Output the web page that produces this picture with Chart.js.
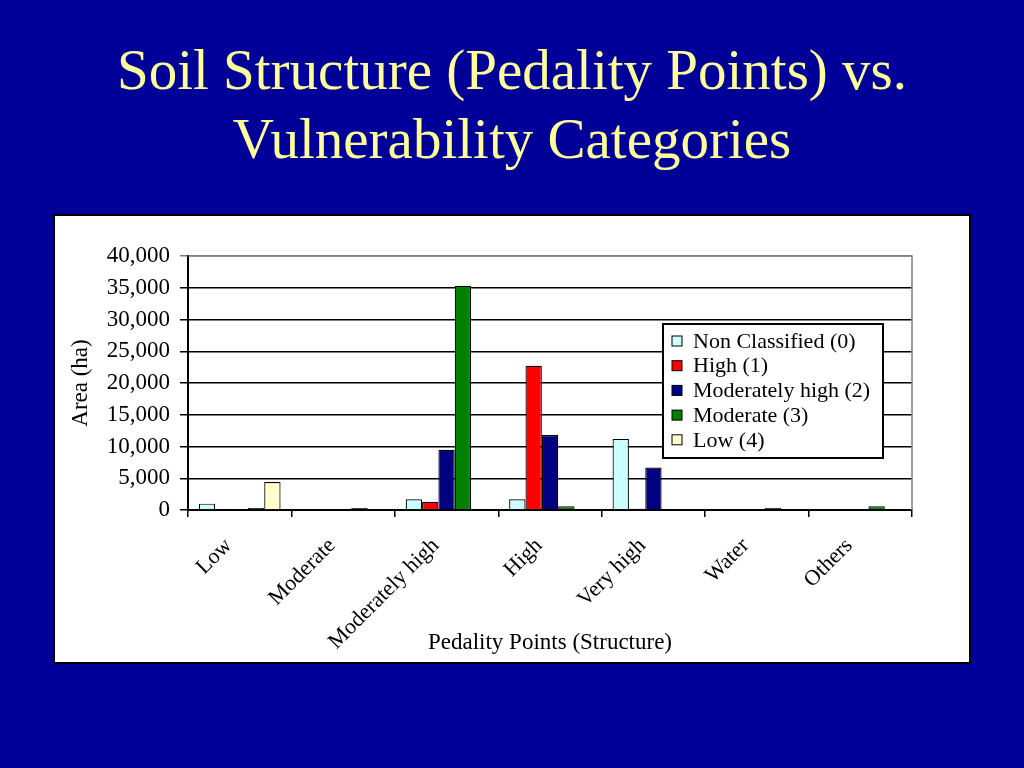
<!DOCTYPE html>
<html>
<head>
<meta charset="utf-8">
<script src="https://cdn.jsdelivr.net/npm/chart.js@4.4.1/dist/chart.umd.min.js"></script>
<style>
    html, body {
        margin: 0;
        padding: 0;
        width: 1024px;
        height: 768px;
        background: #000099;
        overflow: hidden;
    }
    .title {
        position: absolute;
        left: 0;
        top: 35px;
        width: 1024px;
        text-align: center;
        color: #FFFF99;
        font-family: "Liberation Serif", "Times New Roman", serif;
        font-size: 57px;
        line-height: 69px;
    }
    .chart-box {
        position: absolute;
        left: 53px;
        top: 214px;
        width: 914px;
        height: 446px;
        background: #ffffff;
        border: 2px solid #000000;
    }
</style>
</head>
<body>
<div class="title">Soil Structure (Pedality Points) vs.<br>Vulnerability Categories</div>
<div class="chart-box"><canvas id="chart" width="914" height="446"></canvas></div>
<script>
    let categories = ["Low", "Moderate", "Moderately high", "High", "Very high", "Water", "Others"];
    let nonClassified = [1000, 0, 1700, 1700, 11200, 0, 0];
    let highVuln = [0, 0, 1300, 22700, 200, 0, 0];
    let modHighVuln = [0, 0, 9500, 11800, 6700, 0, 0];
    let moderateVuln = [300, 300, 35300, 600, 0, 300, 600];
    let lowVuln = [4400, 0, 0, 0, 0, 0, 0];
    let yTicks = [0, 5000, 10000, 15000, 20000, 25000, 30000, 35000, 40000];

    let serif = "'Liberation Serif', 'Times New Roman', serif";

    function makeSet(label, data, color) {
        return {
            label: label,
            data: data,
            backgroundColor: color,
            borderColor: "#000000",
            borderWidth: 1.2,
            borderSkipped: "bottom",
            barPercentage: 1.0,
            categoryPercentage: 0.79
        };
    }

    // legend box drawn inside the plot, plus the grey plot frame
    let boxLegend = {
        id: "boxLegend",
        afterDraw: function(chart) {
            let ctx = chart.ctx;
            let area = chart.chartArea;
            ctx.save();
            ctx.strokeStyle = "#808080";
            ctx.lineWidth = 1.5;
            ctx.beginPath();
            ctx.moveTo(area.left, area.top);
            ctx.lineTo(area.right, area.top);
            ctx.lineTo(area.right, area.bottom);
            ctx.stroke();

            let x = area.right - 249;
            let y = area.top + 68;
            let w = 220;
            let h = 134;
            ctx.fillStyle = "#ffffff";
            ctx.fillRect(x, y, w, h);
            ctx.strokeStyle = "#000000";
            ctx.lineWidth = 2;
            ctx.strokeRect(x, y, w, h);
            ctx.font = "22px " + serif;
            ctx.textBaseline = "middle";
            chart.data.datasets.forEach(function(ds, i) {
                let rowY = y + 17 + i * 24.7;
                ctx.fillStyle = ds.backgroundColor;
                ctx.fillRect(x + 9, rowY - 5, 10, 10);
                ctx.lineWidth = 1;
                ctx.strokeRect(x + 9, rowY - 5, 10, 10);
                ctx.fillStyle = "#000000";
                ctx.fillText(ds.label, x + 30, rowY + 1);
            });
            ctx.restore();
        }
    };

    let ctx = document.getElementById("chart").getContext("2d");
    let chart = new Chart(ctx, {
        type: "bar",
        data: {
            labels: categories,
            datasets: [
                makeSet("Non Classified (0)", nonClassified, "#CCFFFF"),
                makeSet("High (1)", highVuln, "#FF0000"),
                makeSet("Moderately high (2)", modHighVuln, "#000080"),
                makeSet("Moderate (3)", moderateVuln, "#008000"),
                makeSet("Low (4)", lowVuln, "#FFFFCC")
            ]
        },
        options: {
            responsive: false,
            animation: false,
            layout: {
                padding: {left: 10, top: 40, right: 57, bottom: 5}
            },
            plugins: {
                legend: {display: false},
                tooltip: {enabled: false}
            },
            scales: {
                x: {
                    afterFit: function(scale) {
                        scale.height = 147;
                    },
                    grid: {
                        offset: true,
                        drawOnChartArea: false,
                        drawTicks: true,
                        tickLength: 7,
                        color: "#000000",
                        lineWidth: 1.5
                    },
                    border: {color: "#000000", width: 2},
                    ticks: {
                        color: "#000000",
                        font: {family: serif, size: 22},
                        maxRotation: 45,
                        minRotation: 45,
                        padding: 16,
                        labelOffset: -11
                    },
                    title: {
                        display: true,
                        text: "Pedality Points (Structure)",
                        color: "#000000",
                        font: {family: serif, size: 23},
                        padding: {top: 0, bottom: 0}
                    }
                },
                y: {
                    min: 0,
                    max: 40000,
                    afterFit: function(scale) {
                        scale.width = 123;
                    },
                    afterBuildTicks: function(scale) {
                        scale.ticks = yTicks.map(function(v) {
                            return {value: v};
                        });
                    },
                    grid: {
                        color: function(c) {
                            return c.tick && c.tick.value === 40000 ? "#808080" : "#000000";
                        },
                        lineWidth: 1.5,
                        tickLength: 8
                    },
                    border: {color: "#000000", width: 2},
                    ticks: {
                        color: "#000000",
                        font: {family: serif, size: 23},
                        padding: 10,
                        callback: function(v) {
                            return Number(v).toLocaleString("en-US");
                        }
                    },
                    title: {
                        display: true,
                        text: "Area (ha)",
                        color: "#000000",
                        font: {family: serif, size: 23},
                        padding: {top: 2, bottom: 0}
                    }
                }
            }
        },
        plugins: [boxLegend]
    });
</script>
</body>
</html>
